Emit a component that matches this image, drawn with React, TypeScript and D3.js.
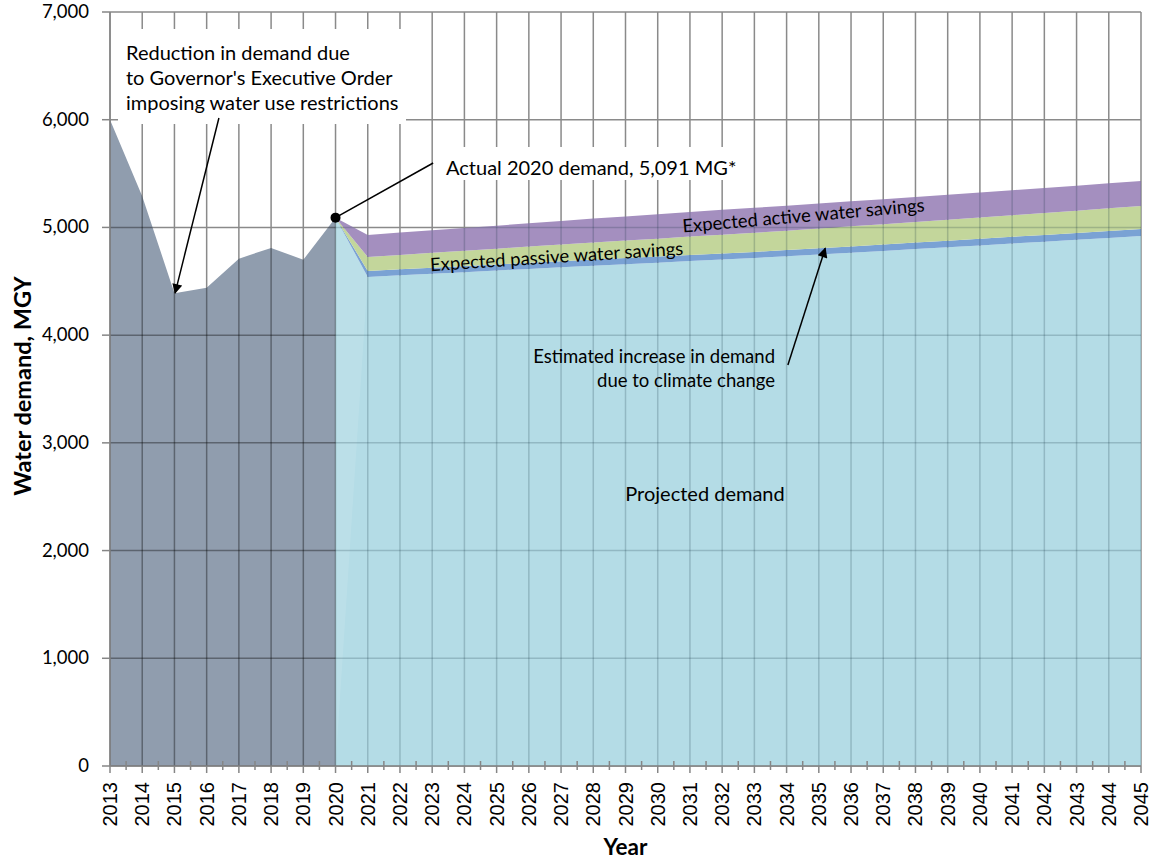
import React from "react";
import * as d3 from "d3";

// Historical demand, million gallons per year
const histYears = [2013, 2014, 2015, 2016, 2017, 2018, 2019, 2020];
const histDemand = [6000, 5290, 4390, 4440, 4710, 4810, 4700, 5091];

// Projection years and stacked components
const projYears = [
  2020, 2021, 2022, 2023, 2024, 2025, 2026, 2027, 2028, 2029, 2030, 2031, 2032,
  2033, 2034, 2035, 2036, 2037, 2038, 2039, 2040, 2041, 2042, 2043, 2044, 2045,
];
const projectedDemand = [
  5091, 4540, 4555, 4570, 4585, 4600, 4615, 4630, 4645, 4659, 4673, 4688, 4702,
  4716, 4732, 4748, 4765, 4782, 4799, 4816, 4833, 4851, 4868, 4886, 4903, 4921,
];
const climateIncrease = [
  0, 56, 56, 56, 56, 56, 57, 57, 57, 57, 57, 57, 57, 57, 58, 58, 59, 59, 60, 60,
  61, 62, 62, 63, 64, 65,
];
const passiveSavings = [
  0, 130, 134, 138, 142, 146, 150, 154, 158, 162, 166, 170, 174, 177, 180, 183,
  186, 189, 192, 195, 198, 201, 204, 207, 210, 213,
];
const activeSavings = [
  0, 204, 207, 209, 212, 214, 217, 219, 222, 224, 227, 229, 231, 232, 232, 232,
  232, 232, 232, 232, 232, 232, 232, 232, 232, 232,
];

const yTickValues = [0, 1000, 2000, 3000, 4000, 5000, 6000, 7000];
const xTickYears = d3.range(2013, 2046);

const W = 1151;
const H = 861;

const COLORS = {
  hist: "#909dae",
  projected: "#b4dce6",
  climate: "#7aa2d4",
  passive: "#c3d69b",
  active: "#a48fbf",
  grid: "#8a8a8a",
};

const LABEL_FONT = "Lato, 'Open Sans', sans-serif";
const TICK_FONT = "'Liberation Sans', Arial, sans-serif";

export default function App() {
  const x = d3.scaleLinear().domain([2013, 2045]).range([110, 1141]);
  const y = d3.scaleLinear().domain([0, 7000]).range([766, 12]);

  const rows = projYears.map((year, i) => ({
    year,
    projected: projectedDemand[i],
    climate: climateIncrease[i],
    passive: passiveSavings[i],
    active: activeSavings[i],
  }));
  const keys = ["projected", "climate", "passive", "active"] as const;
  const series = d3.stack<any>().keys(keys as any)(rows);
  const fills = [COLORS.projected, COLORS.climate, COLORS.passive, COLORS.active];

  const stackArea = d3
    .area<any>()
    .x((d) => x(d.data.year))
    .y0((d) => y(d[0]))
    .y1((d) => y(d[1]));

  const histArea = d3
    .area<number>()
    .x((_, i) => x(histYears[i]))
    .y0(y(0))
    .y1((d) => y(d));

  const totalArea = d3
    .area<any>()
    .x((d) => x(d.data.year))
    .y0(y(0))
    .y1((d) => y(d[1]));

  const top = series[series.length - 1];

  const gridLines = (
    <>
      {xTickYears.map((yr) => (
        <line key={"v" + yr} x1={x(yr)} x2={x(yr)} y1={y(7000)} y2={y(0)} />
      ))}
      {yTickValues.map((v) => (
        <line key={"h" + v} x1={x(2013)} x2={x(2045)} y1={y(v)} y2={y(v)} />
      ))}
    </>
  );

  // annotation anchors in data space
  const i2015 = histYears.indexOf(2015);
  const i2020h = histYears.indexOf(2020);
  const i2035 = projYears.indexOf(2035);
  const climateTop2035 = projectedDemand[i2035] + climateIncrease[i2035];

  const fmt = d3.format(",");

  return (
    <svg
      width={W}
      height={H}
      style={{ position: "absolute", left: 0, top: 0, background: "#fff" }}
    >
      <defs>
        <clipPath id="clip-hist">
          <path d={histArea(histDemand) || ""} />
        </clipPath>
        <clipPath id="clip-proj">
          <path d={totalArea(top) || ""} />
        </clipPath>
        <marker
          id="arrow"
          viewBox="0 0 10 10"
          refX={9}
          refY={5}
          markerWidth={13}
          markerHeight={10}
          markerUnits="userSpaceOnUse"
          orient="auto"
        >
          <path d="M0,0 L10,5 L0,10 z" fill="#000" />
        </marker>
      </defs>

      {/* base grid */}
      <g stroke={COLORS.grid} strokeWidth={1.5}>
        {gridLines}
      </g>

      {/* historical demand */}
      <path d={histArea(histDemand) || ""} fill={COLORS.hist} />

      {/* stacked projection */}
      {series.map((s, i) => (
        <path key={keys[i]} d={stackArea(s) || ""} fill={fills[i]} />
      ))}

      {/* faint seam where projection starts from zero */}
      <path
        d={`M${x(2020)},${y(0)} L${x(2021)},${y(projectedDemand[1])} L${x(2020)},${y(
          projectedDemand[0]
        )} Z`}
        fill="#ffffff"
        opacity={0.1}
      />

      {/* grid seen through areas */}
      <g clipPath="url(#clip-hist)" stroke="#000" strokeOpacity={0.36} strokeWidth={1.5}>
        {gridLines}
      </g>
      <g clipPath="url(#clip-proj)" stroke="#0b2a35" strokeOpacity={0.2} strokeWidth={1.5}>
        {gridLines}
      </g>

      {/* axes */}
      <g stroke="#868686" strokeWidth={1.5}>
        <line x1={x(2013)} x2={x(2013)} y1={y(7000)} y2={y(0)} />
        <line x1={x(2013)} x2={x(2045)} y1={y(0)} y2={y(0)} />
        {yTickValues.map((v) => (
          <line key={"yt" + v} x1={x(2013) - 8} x2={x(2013)} y1={y(v)} y2={y(v)} />
        ))}
        {xTickYears.map((yr) => (
          <line key={"xt" + yr} x1={x(yr)} x2={x(yr)} y1={y(0)} y2={y(0) + 7} />
        ))}
        {xTickYears.slice(0, -1).map((yr) => (
          <line
            key={"xm" + yr}
            x1={x(yr + 0.5)}
            x2={x(yr + 0.5)}
            y1={y(0) - 5}
            y2={y(0) + 4}
          />
        ))}
      </g>

      {/* y tick labels */}
      <g fontFamily={LABEL_FONT} fontSize={18.5} fill="#000" textAnchor="end">
        {yTickValues.map((v) => (
          <text key={"yl" + v} x={x(2013) - 21} y={y(v) + 6}>
            {fmt(v)}
          </text>
        ))}
      </g>

      {/* x tick labels */}
      <g fontFamily={TICK_FONT} fontSize={20} fill="#000" textAnchor="end">
        {xTickYears.map((yr) => (
          <text
            key={"xl" + yr}
            transform={`translate(${x(yr) + 7},${y(0) + 16}) rotate(-90)`}
          >
            {yr}
          </text>
        ))}
      </g>

      {/* axis titles */}
      <text
        transform={`translate(31,${(y(0) + y(7000)) / 2 - 3}) rotate(-90)`}
        textAnchor="middle"
        fontFamily={LABEL_FONT}
        fontWeight="bold"
        fontSize={23.5}
      >
        Water demand, MGY
      </text>
      <text
        x={(x(2013) + x(2045)) / 2}
        y={855}
        textAnchor="middle"
        fontFamily={LABEL_FONT}
        fontWeight="bold"
        fontSize={22.5}
      >
        Year
      </text>

      {/* annotation: executive order */}
      <rect x={118} y={29} width={288} height={95} fill="#fff" />
      <g fontFamily={LABEL_FONT} fontSize={20} fill="#000">
        <text x={126} y={60}>Reduction in demand due</text>
        <text x={126} y={85}>to Governor's Executive Order</text>
        <text x={126} y={110}>imposing water use restrictions</text>
      </g>
      <line
        x1={x(2016.38)}
        y1={y(6016)}
        x2={x(2015.02)}
        y2={y(histDemand[i2015])}
        stroke="#000"
        strokeWidth={1.5}
        markerEnd="url(#arrow)"
      />

      {/* annotation: actual 2020 demand */}
      <rect x={433} y={147} width={312} height={33} fill="#fff" />
      <line
        x1={x(2020)}
        y1={y(histDemand[i2020h])}
        x2={x(2023.03)}
        y2={y(5598)}
        stroke="#000"
        strokeWidth={1.5}
      />
      <circle cx={x(2020)} cy={y(histDemand[i2020h])} r={5} fill="#000" />
      <text x={446} y={175} fontFamily={LABEL_FONT} fontSize={20}>
        Actual 2020 demand, {fmt(histDemand[i2020h])} MG*
      </text>

      {/* band labels */}
      <text
        transform={`translate(804,222) rotate(-5)`}
        textAnchor="middle"
        fontFamily={LABEL_FONT}
        fontSize={18.5}
      >
        Expected active water savings
      </text>
      <text
        transform={`translate(557,263) rotate(-3.7)`}
        textAnchor="middle"
        fontFamily={LABEL_FONT}
        fontSize={18.5}
      >
        Expected passive water savings
      </text>

      {/* annotation: climate change */}
      <g fontFamily={LABEL_FONT} fontSize={18.5} fill="#000" textAnchor="end">
        <text x={775} y={363}>Estimated increase in demand</text>
        <text x={775} y={387}>due to climate change</text>
      </g>
      <line
        x1={x(2034.04)}
        y1={y(3723)}
        x2={x(2035.2)}
        y2={y(climateTop2035)}
        stroke="#000"
        strokeWidth={1.5}
        markerEnd="url(#arrow)"
      />

      <text x={705} y={501} textAnchor="middle" fontFamily={LABEL_FONT} fontSize={20}>
        Projected demand
      </text>
    </svg>
  );
}
